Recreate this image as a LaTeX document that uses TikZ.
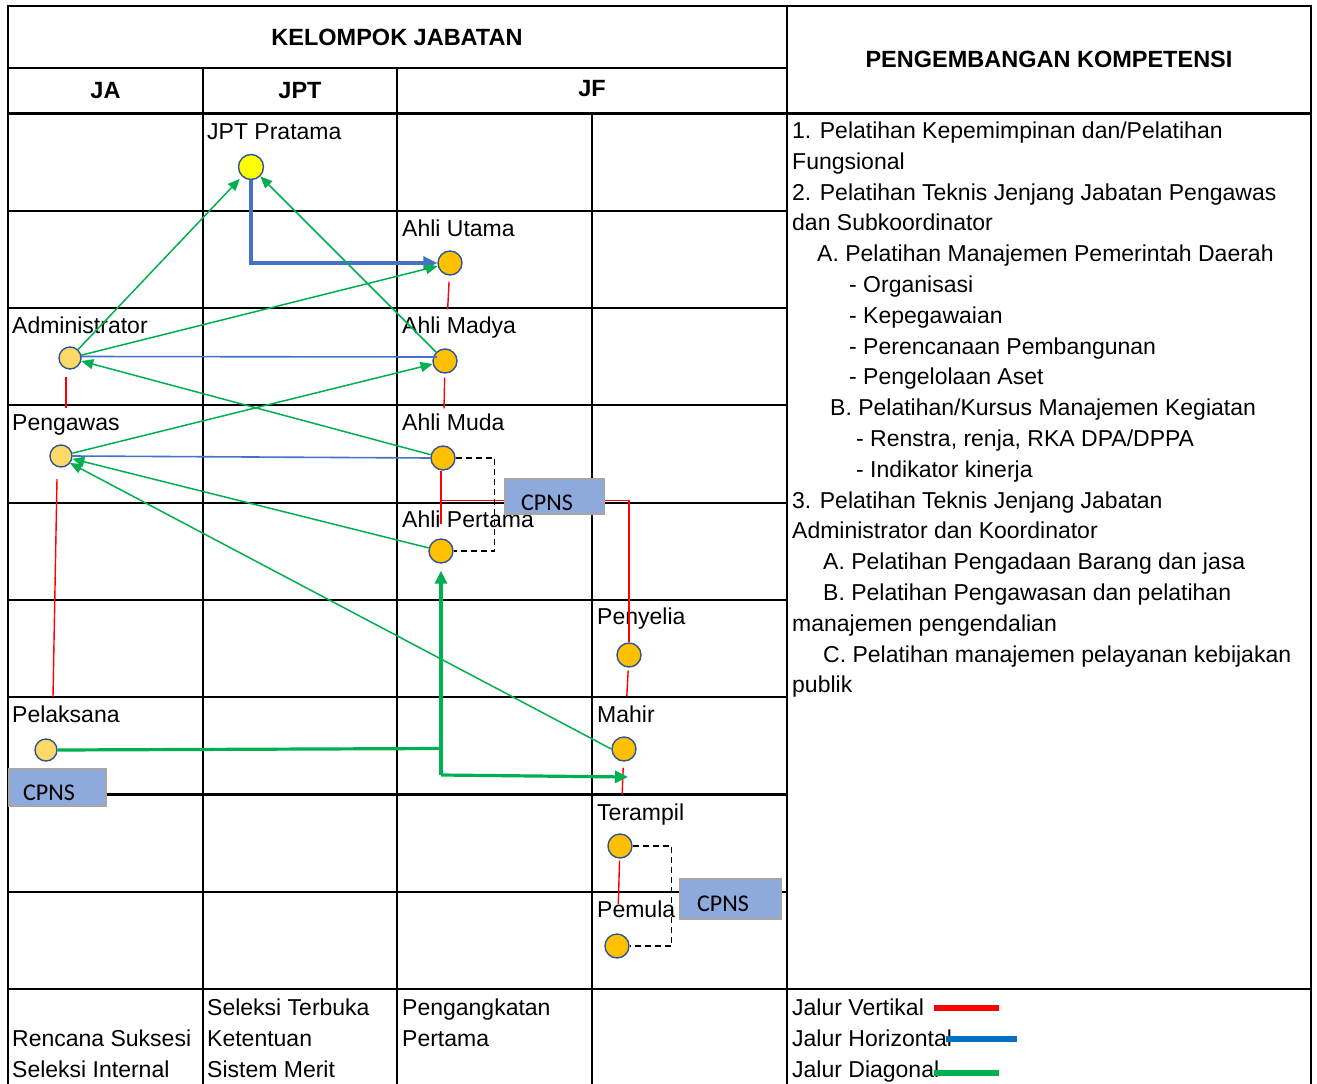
\documentclass[tikz,border=0pt]{standalone}
\usepackage{fontspec}
\setmainfont{Liberation Sans}
\newfontfamily\calfont{Carlito}
\usetikzlibrary{arrows.meta}
\definecolor{orangefill}{HTML}{FFC000}
\definecolor{lightfill}{HTML}{FFD966}
\definecolor{yellowfill}{HTML}{FFFF00}
\definecolor{dotborder}{HTML}{2F5597}
\definecolor{greenc}{HTML}{00B050}
\definecolor{bluec}{HTML}{4472C4}
\definecolor{legblue}{HTML}{0070C0}
\definecolor{redc}{HTML}{FF0000}
\definecolor{cpnsfill}{HTML}{8EA9DB}
\definecolor{cpnsborder}{HTML}{A6A6A6}
\begin{document}
\begin{tikzpicture}[x=1pt,y=-1pt,
  gridln/.style={line width=2.2pt,black,line cap=rect},
  lbl/.style={anchor=base west,inner sep=0pt,font=\fontsize{23}{28}\selectfont},
  hdr/.style={inner sep=0pt,font=\fontsize{23.5}{28}\selectfont\bfseries},
  jdot/.style={circle,draw=dotborder,line width=1.4pt,inner sep=0pt,minimum size=24pt},
  orangedot/.style={jdot,fill=orangefill},
  lightdot/.style={jdot,fill=lightfill,minimum size=22pt},
  yellowdot/.style={jdot,fill=yellowfill,minimum size=25pt},
  gline/.style={draw=greenc,line width=1.5pt,-{Triangle[length=12pt,width=10pt]}},
  gthick/.style={draw=greenc,line width=3.2pt},
  gtip/.style={-{Triangle[length=13pt,width=12pt]}},
  bline/.style={draw=bluec,line width=1.6pt},
  bthick/.style={draw=bluec,line width=3.2pt,-{Triangle[length=14pt,width=13pt]}},
  rline/.style={draw=redc,line width=1.4pt},
  dline/.style={draw=black,line width=1.3pt,dash pattern=on 6pt off 4pt},
  cpnsbox/.style={draw=cpnsborder,line width=1.8pt,fill=cpnsfill,inner sep=0pt},
  cpnstxt/.style={inner sep=0pt,font=\calfont\fontsize{24}{28}\selectfont}
]
\useasboundingbox (0,0) rectangle (1317,1084);
\fill[white] (0,0) rectangle (1317,1084);

% grid
\draw[gridln] (8,6) -- (1311,6);
\draw[gridln] (8,68) -- (787,68);
\draw[gridln] (8,113.5) -- (1311,113.5);
\foreach \yy in {210.7,307.7,405.3,502.7,600,697,794.5,891.7}
  \draw[gridln] (8,\yy) -- (787,\yy);
\draw[gridln] (8,989.3) -- (1311,989.3);
\draw[gridln] (8,6) -- (8,1084);
\draw[gridln] (203,68) -- (203,1084);
\draw[gridln] (397,68) -- (397,1084);
\draw[gridln] (592,113.5) -- (592,1084);
\draw[gridln] (787,6) -- (787,1084);
\draw[gridln] (1311,6) -- (1311,1084);

% headers
\node[hdr] (hkel) at (397,37) {KELOMPOK JABATAN};
\node[hdr] (hja) at (105.5,91) {JA};
\node[hdr] (hjpt) at (300,91) {JPT};
\node[hdr] (hjf) at (592,89) {JF};
\node[hdr] (hpk) at (1049,59) {PENGEMBANGAN KOMPETENSI};

% red vertical paths (under labels)
\coordinate (rj) at (441,500.5);
\draw[rline] (441,471) coordinate (rtop) -- (441,524) coordinate (rbot);

% row labels
\node[lbl] (ljpt) at (207,139.3) {JPT Pratama};
\node[lbl] (lutama) at (402,236.3) {Ahli Utama};
\node[lbl] (ladmin) at (12,333.3) {Administrator};
\node[lbl] (lmadya) at (402,333.3) {Ahli Madya};
\node[lbl] (lpeng) at (12,430.7) {Pengawas};
\node[lbl] (lmuda) at (402,430.7) {Ahli Muda};
\node[lbl] (lpertama) at (402,527.8) {Ahli Pertama};
\node[lbl] (lpenyelia) at (597,624.5) {Penyelia};
\node[lbl] (lpel) at (12,722.8) {Pelaksana};
\node[lbl] (lmahir) at (597,722.8) {Mahir};
\node[lbl] (lterampil) at (597,820) {Terampil};
\node[lbl] (lpemula) at (597,917) {Pemula};

% bottom row
\node[lbl] (b1) at (12,1046.5) {Rencana Suksesi};
\node[lbl] (b2) at (12,1077) {Seleksi Internal};
\node[lbl] (b3) at (207,1015.5) {Seleksi Terbuka};
\node[lbl] (b4) at (207,1046.5) {Ketentuan};
\node[lbl] (b5) at (207,1077) {Sistem Merit};
\node[lbl] (b6) at (402,1015.5) {Pengangkatan};
\node[lbl] (b7) at (402,1046.5) {Pertama};

% legend
\node[lbl] (lg1) at (792,1015.5) {Jalur Vertikal};
\node[lbl] (lg2) at (792,1046.5) {Jalur Horizontal};
\node[lbl] (lg3) at (792,1077) {Jalur Diagonal};
\draw[redc,line width=6.5pt] (934,1008) -- (999,1008);
\draw[legblue,line width=6pt] (946,1039) -- (1017,1039);
\draw[greenc,line width=6pt] (934,1073) -- (999,1073);

% right column text
\node[lbl] (r1) at (792,138.5) {1. Pelatihan Kepemimpinan dan/Pelatihan};
\node[lbl] (r2) at (792,169.3) {Fungsional};
\node[lbl] (r3) at (792,200.1) {2. Pelatihan Teknis Jenjang Jabatan Pengawas};
\node[lbl] (r4) at (792,230.9) {dan Subkoordinator};
\node[lbl] (r5) at (817,261.7) {A. Pelatihan Manajemen Pemerintah Daerah};
\node[lbl] (r6) at (849,292.5) {- Organisasi};
\node[lbl] (r7) at (849,323.3) {- Kepegawaian};
\node[lbl] (r8) at (849,354.1) {- Perencanaan Pembangunan};
\node[lbl] (r9) at (849,384.9) {- Pengelolaan Aset};
\node[lbl] (r10) at (830,415.7) {B. Pelatihan/Kursus Manajemen Kegiatan};
\node[lbl] (r11) at (856,446.5) {- Renstra, renja, RKA DPA/DPPA};
\node[lbl] (r12) at (856,477.3) {- Indikator kinerja};
\node[lbl] (r13) at (792,508.1) {3. Pelatihan Teknis Jenjang Jabatan};
\node[lbl] (r14) at (792,538.9) {Administrator dan Koordinator};
\node[lbl] (r15) at (823,569.7) {A. Pelatihan Pengadaan Barang dan jasa};
\node[lbl] (r16) at (823,600.5) {B. Pelatihan Pengawasan dan pelatihan};
\node[lbl] (r17) at (792,631.3) {manajemen pengendalian};
\node[lbl] (r18) at (823,662.1) {C. Pelatihan manajemen pelayanan kebijakan};
\node[lbl] (r19) at (792,692.9) {publik};

% circles
\node[yellowdot] (jpt) at (251,167) {};
\node[orangedot] (utama) at (450,263) {};
\node[lightdot] (admin) at (70,358) {};
\node[orangedot] (madya) at (445,361) {};
\node[lightdot] (peng) at (61,456) {};
\node[orangedot] (muda) at (443,458) {};
\node[orangedot] (pertama) at (441,551) {};
\node[orangedot] (penyelia) at (629,655) {};
\node[lightdot] (pel) at (46,750) {};
\node[orangedot] (mahir) at (624,749) {};
\node[orangedot] (terampil) at (620,846) {};
\node[orangedot] (pemula) at (617,946) {};

% red vertical connectors
\draw[rline,shorten <=6pt,shorten >=39pt] (utama) -- (madya);
\draw[rline,shorten <=4pt,shorten >=37pt] (madya) -- (muda);
\draw[rline] ([shift={(-4,19)}]admin.center) -- ([shift={(5,-48)}]peng.center);
\draw[rline] ([shift={(-4,23)}]peng.center) -- ([shift={(7,-53)}]pel.center);
\draw[rline] (rj) -| (penyelia.north);
\draw[rline,shorten <=3pt,shorten >=40pt] (penyelia) -- (mahir);
\draw[rline,shorten <=6pt,shorten >=39pt] (mahir) -- (terampil);
\draw[rline,shorten <=2pt,shorten >=29pt] (terampil) -- (pemula);

% dashed CPNS links
\draw[dline] (muda.east) -- ++(39,0) |- (pertama.east);
\draw[dline] (terampil.east) -- ++(39,0) |- (pemula.east);

% blue horizontal
\draw[bthick] (jpt.south) |- (utama.west);
\draw[bline] ([shift={(11,-1.5)}]admin.center) -- ([shift={(-8,-4)}]madya.center);
\draw[bline] (muda.west) -- (peng.east);

% green diagonal
\draw[gline,shorten >=3pt] (admin) -- (jpt);
\draw[gline] (madya) -- (jpt);
\draw[gline] (admin) -- (utama);
\draw[gline] (peng) -- (madya);
\draw[gline] (muda) -- (admin);
\draw[gline] (pertama) -- (peng);
\draw[gline] (mahir.west) -- ([shift={(9,7)}]peng.center);

% green thick
\coordinate (gj) at (441,748.5);
\coordinate (gk) at (441,775);
\coordinate (gm) at (628,777);
\draw[gthick] (pel.east) -- (gj);
\draw[gthick,gtip,shorten >=7pt] (gk) -- (pertama.south);
\draw[gthick,gtip] (gk) -- (gm);

% CPNS boxes
\node[cpnsbox,minimum width=99pt,minimum height=35pt] (c1) at (554.5,496.5) {};
\node[cpnstxt] (c1t) at (547,502.5) {CPNS};
\node[cpnsbox,minimum width=97pt,minimum height=37pt] (c2) at (57.5,787.5) {};
\node[cpnstxt] (c2t) at (49,792.5) {CPNS};
\node[cpnsbox,minimum width=101pt,minimum height=40pt] (c3) at (730.5,899) {};
\node[cpnstxt] (c3t) at (723,903.5) {CPNS};
\end{tikzpicture}
\end{document}
